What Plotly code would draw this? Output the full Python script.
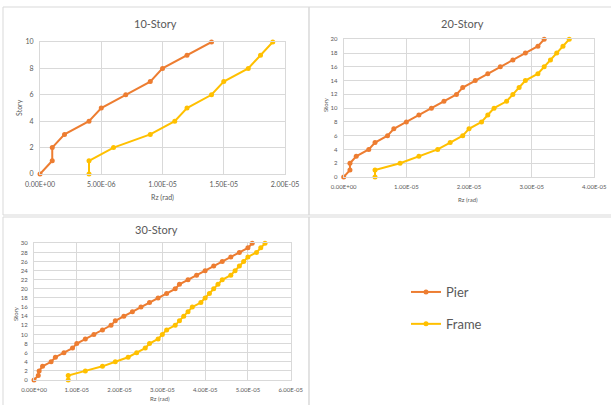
import plotly.graph_objects as go

# ---------------- data ----------------
story10 = list(range(0, 11))
pier10 = [0, 1e-6, 1e-6, 2e-6, 4e-6, 5e-6, 7e-6, 9e-6, 1.0e-5, 1.2e-5, 1.4e-5]
frame10 = [4e-6, 4e-6, 6e-6, 9e-6, 1.1e-5, 1.2e-5, 1.4e-5, 1.5e-5, 1.7e-5, 1.8e-5, 1.9e-5]

story20 = list(range(0, 21))
pier20 = [0, 1e-6, 1e-6, 2e-6, 4e-6, 5e-6, 7e-6, 8e-6, 1.0e-5, 1.2e-5, 1.4e-5,
          1.6e-5, 1.8e-5, 1.9e-5, 2.1e-5, 2.3e-5, 2.5e-5, 2.7e-5, 2.9e-5, 3.1e-5, 3.2e-5]
frame20 = [5e-6, 5e-6, 9e-6, 1.2e-5, 1.5e-5, 1.7e-5, 1.9e-5, 2.0e-5, 2.2e-5, 2.3e-5, 2.4e-5,
           2.6e-5, 2.7e-5, 2.8e-5, 2.9e-5, 3.1e-5, 3.2e-5, 3.3e-5, 3.4e-5, 3.5e-5, 3.6e-5]

story30 = list(range(0, 31))
pier30 = [0, 1e-6, 1.2e-6, 2e-6, 4e-6, 5e-6, 7e-6, 9e-6, 1.0e-5, 1.2e-5, 1.4e-5,
          1.6e-5, 1.8e-5, 1.9e-5, 2.1e-5, 2.3e-5, 2.5e-5, 2.7e-5, 2.9e-5, 3.1e-5, 3.3e-5,
          3.4e-5, 3.6e-5, 3.8e-5, 4.0e-5, 4.2e-5, 4.4e-5, 4.6e-5, 4.8e-5, 5.0e-5, 5.1e-5]
frame30 = [8e-6, 8e-6, 1.2e-5, 1.6e-5, 1.9e-5, 2.2e-5, 2.4e-5, 2.6e-5, 2.7e-5, 2.9e-5, 3.0e-5,
           3.1e-5, 3.3e-5, 3.4e-5, 3.5e-5, 3.6e-5, 3.7e-5, 3.9e-5, 4.0e-5, 4.1e-5, 4.2e-5,
           4.3e-5, 4.4e-5, 4.6e-5, 4.7e-5, 4.8e-5, 4.9e-5, 5.0e-5, 5.2e-5, 5.3e-5, 5.4e-5]

xticks10 = [0, 5e-6, 1e-5, 1.5e-5, 2e-5]
xticks20 = [0, 1e-5, 2e-5, 3e-5, 4e-5]
xticks30 = [0, 1e-5, 2e-5, 3e-5, 4e-5, 5e-5, 6e-5]
titles = ["10-Story", "20-Story", "30-Story"]
series_names = ["Pier", "Frame"]

# ---------------- styling ----------------
W, H = 611, 405
PIER = "#ED7D31"
FRAME = "#FFC000"
GRID = "#D9D9D9"
TXT = "#595959"
FONT = "Lato, Open Sans, sans-serif"


def px(x):
    return x / W


def py(y):
    return 1 - y / H


def fmt(v):
    return f"{v:.2E}"


fig = go.Figure()

panels = [
    (story10, pier10, frame10, xticks10, 2e-5, 10, (40, 285, 42, 174), "", 7),
    (story20, pier20, frame20, xticks20, 4e-5, 20, (343.7, 594.3, 39.3, 177), "2", 6),
    (story30, pier30, frame30, xticks30, 6e-5, 30, (34, 290.7, 243.3, 380), "3", 6),
]

for i, (st, pr, fr, xt, xmax, ymax, dom, sfx, fs) in enumerate(panels):
    xa = "x" + sfx
    ya = "y" + sfx
    for name, vals, col in [(series_names[0], pr, PIER), (series_names[1], fr, FRAME)]:
        fig.add_trace(go.Scatter(
            x=vals, y=st, mode="lines+markers", name=name,
            line=dict(color=col, width=2), marker=dict(color=col, size=5),
            xaxis=xa, yaxis=ya, cliponaxis=False,
            showlegend=(i == 0), legendgroup=name,
        ))
    x0, x1, yt, yb = dom
    axis_common = dict(showgrid=True, gridcolor=GRID, gridwidth=1, zeroline=False,
                       showline=True, linecolor=GRID, linewidth=1, mirror=True,
                       ticks="", tickfont=dict(size=fs, color=TXT, family=FONT),
                       ticklabelstandoff=4, automargin=False)
    fig.update_layout(**{
        ("xaxis" + sfx): dict(domain=[px(x0), px(x1)], range=[0, xmax], anchor=ya,
                              tickvals=xt, ticktext=[fmt(v) for v in xt], **axis_common),
        ("yaxis" + sfx): dict(domain=[py(yb), py(yt)], range=[0, ymax], anchor=xa,
                              dtick=2, tick0=0, **axis_common),
    })

annotations = []
for txt, x, y in [(titles[0], 155, 24), (titles[1], 462, 23), (titles[2], 156, 229)]:
    annotations.append(dict(text=txt, x=px(x), y=py(y), xref="paper", yref="paper",
                            showarrow=False, font=dict(size=11, color=TXT, family=FONT),
                            xanchor="center", yanchor="middle"))
for x, y, fs in [(162, 197, 7), (468, 199, 6), (160, 398, 6)]:
    annotations.append(dict(text="Rz (rad)", x=px(x), y=py(y), xref="paper", yref="paper",
                            showarrow=False, font=dict(size=fs, color=TXT, family=FONT),
                            xanchor="center", yanchor="middle"))
for x, y, fs in [(19, 108, 7), (325, 105, 6), (15, 313, 6)]:
    annotations.append(dict(text="Story", x=px(x), y=py(y), xref="paper", yref="paper",
                            showarrow=False, textangle=-90,
                            font=dict(size=fs, color=TXT, family=FONT),
                            xanchor="center", yanchor="middle"))

shapes = []
for (a, b, c, d) in [(3, 7, 309, 215), (309, 7, 612, 215), (3, 217, 309, 406), (309, 217, 612, 406)]:
    shapes.append(dict(type="rect", xref="paper", yref="paper",
                       x0=px(a), x1=px(c), y0=py(d), y1=py(b),
                       line=dict(color=GRID, width=1), fillcolor="rgba(0,0,0,0)", layer="below"))

fig.update_layout(
    width=W, height=H, margin=dict(l=0, r=0, t=0, b=0, pad=0),
    paper_bgcolor="white", plot_bgcolor="white",
    annotations=annotations, shapes=shapes,
    legend=dict(x=px(406), y=py(308), xanchor="left", yanchor="middle",
                font=dict(size=13, color=TXT, family=FONT),
                traceorder="grouped", tracegroupgap=12, bgcolor="rgba(0,0,0,0)",
                itemwidth=30),
    font=dict(family=FONT, color=TXT),
)

fig.write_html("out.html", config={"displayModeBar": False},
               post_script="document.body.style.margin='0';document.body.style.padding='0';")
